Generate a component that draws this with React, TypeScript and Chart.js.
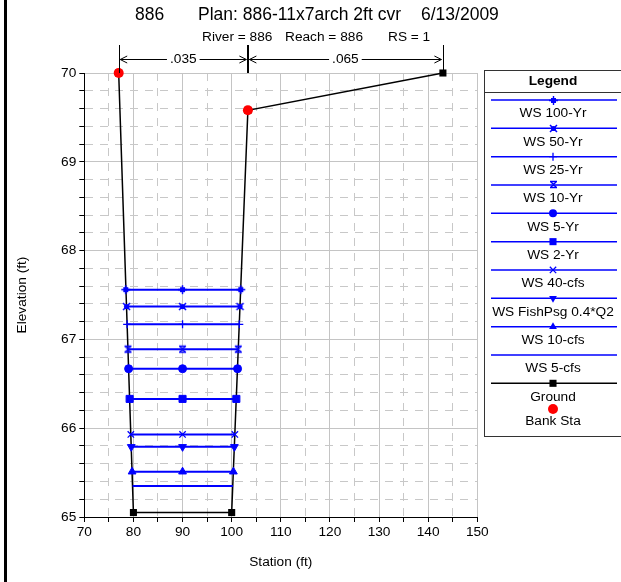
import React, { useEffect, useRef } from 'react';
import { Chart, registerables } from 'chart.js';

Chart.register(...registerables);

const FONT = "'Liberation Sans', Arial, Helvetica, sans-serif";

// ---- data ----
const seriesNames = ['WS 100-Yr', 'WS 50-Yr', 'WS 25-Yr', 'WS 10-Yr', 'WS 5-Yr', 'WS 2-Yr', 'WS 40-cfs', 'WS FishPsg 0.4*Q2', 'WS 10-cfs', 'WS 5-cfs'];
const wsElevations = [67.56, 67.37, 67.17, 66.89, 66.67, 66.33, 65.93, 65.79, 65.51, 65.35];
const wsLeftStations = [78.45, 78.6, 78.72, 78.89, 79.02, 79.23, 79.47, 79.56, 79.73, 79.83];
const wsMidStation = 90;
const wsRightStations = [101.85, 101.7, 101.55, 101.35, 101.2, 100.95, 100.65, 100.55, 100.35, 100.25];
const groundStations = [77, 80, 100, 103.3, 143];
const groundElevations = [70, 65.05, 65.05, 69.58, 70];
const bankStations = [77, 103.3];
const bankElevations = [70, 69.58];
const nBreakStations = [77, 103.3, 143];
const nValues = ['.035', '.065'];
const xMin = 70, xMax = 150, xStep = 5, xLabelStep = 10;
const yMin = 65, yMax = 70, yStep = 0.2;
const titleParts = ['886', 'Plan: 886-11x7arch 2ft cvr', '6/13/2009'];
const subtitleParts = ['River = 886', 'Reach = 886', 'RS = 1'];

const BLUE = '#0000ff';

function makeCanvas(w: number, h: number, draw: (c: CanvasRenderingContext2D) => void) {
  const cv = document.createElement('canvas');
  cv.width = w; cv.height = h;
  const c = cv.getContext('2d')!;
  draw(c);
  return cv;
}

function buildMarkers() {
  const star100 = makeCanvas(11, 11, (c) => {
    c.fillStyle = BLUE; c.strokeStyle = BLUE; c.lineWidth = 1.4;
    c.fillRect(3, 3, 5, 5);
    c.beginPath();
    c.moveTo(5.5, 1); c.lineTo(5.5, 10);
    c.moveTo(1, 5.5); c.lineTo(10, 5.5);
    c.stroke();
  });
  const star50 = makeCanvas(11, 11, (c) => {
    c.fillStyle = BLUE; c.strokeStyle = BLUE; c.lineWidth = 1.5;
    c.beginPath(); c.arc(5.5, 5.5, 2.6, 0, Math.PI * 2); c.fill();
    c.beginPath();
    c.moveTo(2, 2); c.lineTo(9, 9);
    c.moveTo(9, 2); c.lineTo(2, 9);
    c.stroke();
  });
  const hourglass = makeCanvas(11, 11, (c) => {
    c.strokeStyle = BLUE; c.lineWidth = 1.3;
    c.beginPath();
    c.moveTo(2, 2.5); c.lineTo(9, 2.5);
    c.moveTo(2, 8.5); c.lineTo(9, 8.5);
    c.moveTo(2.5, 2.5); c.lineTo(8.5, 8.5);
    c.moveTo(8.5, 2.5); c.lineTo(2.5, 8.5);
    c.stroke();
  });
  return { star100, star50, hourglass };
}

type MarkerSpec = { style: any; r: number; rot?: number; bw?: number };

function drawMarker(ctx: CanvasRenderingContext2D, m: MarkerSpec, color: string, x: number, y: number) {
  if (m.r <= 0) return;
  if (m.style && typeof m.style === 'object') {
    ctx.drawImage(m.style, Math.round(x - m.style.width / 2), Math.round(y - m.style.height / 2));
    return;
  }
  const r = m.r;
  ctx.save();
  ctx.fillStyle = color; ctx.strokeStyle = color; ctx.lineWidth = m.bw || 1;
  ctx.beginPath();
  switch (m.style) {
    case 'circle':
      ctx.arc(x, y, r, 0, Math.PI * 2); ctx.fill(); break;
    case 'rect': {
      const s = r * Math.SQRT1_2;
      ctx.rect(x - s, y - s, 2 * s, 2 * s); ctx.fill(); break;
    }
    case 'triangle': {
      let rad = ((m.rot || 0) * Math.PI) / 180;
      ctx.moveTo(x + Math.sin(rad) * r, y - Math.cos(rad) * r);
      rad += (2 * Math.PI) / 3;
      ctx.lineTo(x + Math.sin(rad) * r, y - Math.cos(rad) * r);
      rad += (2 * Math.PI) / 3;
      ctx.lineTo(x + Math.sin(rad) * r, y - Math.cos(rad) * r);
      ctx.closePath(); ctx.fill(); break;
    }
    case 'cross':
      ctx.moveTo(x, y - r); ctx.lineTo(x, y + r);
      ctx.moveTo(x - r, y); ctx.lineTo(x + r, y);
      ctx.stroke(); break;
    case 'crossRot': {
      const d = r * Math.SQRT1_2;
      ctx.moveTo(x - d, y - d); ctx.lineTo(x + d, y + d);
      ctx.moveTo(x + d, y - d); ctx.lineTo(x - d, y + d);
      ctx.stroke(); break;
    }
  }
  ctx.restore();
}

export default function App() {
  const ref = useRef<HTMLCanvasElement>(null);

  useEffect(() => {
    document.body.style.margin = '0';
    const mk = buildMarkers();
    const wsMarkers: MarkerSpec[] = [
      { style: mk.star100, r: 4 },
      { style: mk.star50, r: 4 },
      { style: 'cross', r: 4, bw: 1.3 },
      { style: mk.hourglass, r: 4 },
      { style: 'circle', r: 4 },
      { style: 'rect', r: 5 },
      { style: 'crossRot', r: 4.5, bw: 1.3 },
      { style: 'triangle', r: 4.5, rot: 180 },
      { style: 'triangle', r: 4.5, rot: 0 },
      { style: 'circle', r: 0 },
    ];
    const groundMarker: MarkerSpec = { style: 'rect', r: 5 };
    const bankMarker: MarkerSpec = { style: 'circle', r: 5 };

    const wsDatasets = seriesNames.map((name, i) => ({
      label: name,
      data: [
        { x: wsLeftStations[i], y: wsElevations[i] },
        { x: wsMidStation, y: wsElevations[i] },
        { x: wsRightStations[i], y: wsElevations[i] },
      ],
      showLine: true,
      borderColor: BLUE,
      backgroundColor: BLUE,
      borderWidth: 2,
      pointStyle: wsMarkers[i].style,
      pointRadius: wsMarkers[i].r,
      pointRotation: wsMarkers[i].rot || 0,
      pointBackgroundColor: BLUE,
      pointBorderColor: BLUE,
      pointBorderWidth: wsMarkers[i].bw || 1,
      clip: false as any,
      order: 2,
    }));

    const datasets: any[] = [
      {
        label: 'Bank Sta',
        data: bankStations.map((x, i) => ({ x, y: bankElevations[i] })),
        showLine: false,
        pointStyle: 'circle',
        pointRadius: bankMarker.r,
        pointBackgroundColor: '#ff0000',
        pointBorderColor: '#ff0000',
        pointBorderWidth: 0,
        clip: false,
        order: 0,
      },
      ...wsDatasets,
      {
        label: 'Ground',
        data: groundStations.map((x, i) => ({ x, y: groundElevations[i] })),
        showLine: true,
        borderColor: '#000000',
        backgroundColor: '#000000',
        borderWidth: 1.5,
        pointStyle: 'rect',
        pointRadius: groundMarker.r,
        pointBackgroundColor: '#000000',
        pointBorderColor: '#000000',
        pointBorderWidth: 0,
        clip: false,
        order: 3,
      },
    ];

    const decorPlugin = {
      id: 'decor',
      afterDraw(chart: any) {
        const ctx: CanvasRenderingContext2D = chart.ctx;
        const xs = chart.scales.x;
        const area = chart.chartArea;
        ctx.save();
        // left black frame bar
        ctx.fillStyle = '#000';
        ctx.fillRect(4, 0, 3, 582);

        // titles
        ctx.fillStyle = '#000';
        ctx.textBaseline = 'middle';
        ctx.textAlign = 'left';
        ctx.font = `17.5px ${FONT}`;
        const tx = [135, 198, 421];
        titleParts.forEach((t, i) => ctx.fillText(t, tx[i], 15));
        ctx.font = `13.7px ${FONT}`;
        const sx = [202, 285, 388];
        subtitleParts.forEach((t, i) => ctx.fillText(t, sx[i], 37));

        // n-value break lines and arrows
        const px = nBreakStations.map((v) => xs.getPixelForValue(v));
        ctx.strokeStyle = '#000';
        px.forEach((p, i) => {
          ctx.lineWidth = i === 1 ? 2 : 1;
          ctx.beginPath();
          ctx.moveTo(Math.round(p) + (i === 1 ? 0 : 0.5), 45);
          ctx.lineTo(Math.round(p) + (i === 1 ? 0 : 0.5), area.top);
          ctx.stroke();
        });
        const ay = 59.5;
        ctx.lineWidth = 1;
        ctx.font = `13.7px ${FONT}`;
        ctx.textAlign = 'center';
        for (let j = 0; j < nValues.length; j++) {
          const a = px[j] + 1.5, b = px[j + 1] - 1.5;
          const mid = (a + b) / 2;
          const tw = ctx.measureText(nValues[j]).width;
          ctx.beginPath();
          ctx.moveTo(a, ay); ctx.lineTo(mid - tw / 2 - 3, ay);
          ctx.moveTo(mid + tw / 2 + 3, ay); ctx.lineTo(b, ay);
          ctx.moveTo(a + 7, ay - 3.5); ctx.lineTo(a, ay); ctx.lineTo(a + 7, ay + 3.5);
          ctx.moveTo(b - 7, ay - 3.5); ctx.lineTo(b, ay); ctx.lineTo(b - 7, ay + 3.5);
          ctx.stroke();
          ctx.fillText(nValues[j], mid, ay);
        }

        // legend box
        const lx0 = 484.5, lx1 = 622, ly0 = 70.5, ly1 = 436.5;
        const cx = 553;
        ctx.strokeStyle = '#333';
        ctx.lineWidth = 1;
        ctx.strokeRect(lx0, ly0, lx1 - lx0, ly1 - ly0);
        ctx.beginPath();
        ctx.moveTo(lx0, 92.5); ctx.lineTo(lx1, 92.5);
        ctx.stroke();
        ctx.fillStyle = '#000';
        ctx.font = `bold 13.7px ${FONT}`;
        ctx.fillText('Legend', cx, 81.5);
        ctx.font = `13.7px ${FONT}`;
        const entries = [
          ...seriesNames.map((n, i) => ({ name: n, color: BLUE, width: 1.5, marker: wsMarkers[i] })),
          { name: 'Ground', color: '#000', width: 1.5, marker: groundMarker },
        ];
        entries.forEach((e, i) => {
          const ly = 100 + i * 28.33;
          ctx.strokeStyle = e.color;
          ctx.lineWidth = e.width;
          ctx.beginPath();
          ctx.moveTo(491, ly); ctx.lineTo(617, ly);
          ctx.stroke();
          drawMarker(ctx, e.marker, e.color, cx, ly);
          ctx.fillStyle = '#000';
          ctx.fillText(e.name, cx, ly + 13.7);
        });
        drawMarker(ctx, bankMarker, '#ff0000', cx, 409);
        ctx.fillStyle = '#000';
        ctx.fillText('Bank Sta', cx, 421.5);
        ctx.restore();
      },
    };

    const isMajor = (v: number, step: number) => Math.abs(v / step - Math.round(v / step)) < 1e-6;

    const chart = new Chart(ref.current!, {
      type: 'scatter',
      data: { datasets },
      options: {
        responsive: false,
        animation: false,
        devicePixelRatio: 1,
        layout: { padding: { top: 73, right: 143.7, bottom: 0, left: 0 } },
        plugins: {
          legend: { display: false },
          tooltip: { enabled: false },
          title: { display: false },
        },
        elements: { line: { tension: 0 } },
        scales: {
          x: {
            type: 'linear',
            position: 'bottom',
            min: xMin,
            max: xMax,
            afterFit: (s: any) => { s.height = 65; },
            ticks: {
              stepSize: xStep,
              autoSkip: false,
              maxRotation: 0,
              color: '#000',
              padding: 2,
              font: { family: FONT, size: 13.7 },
              callback: (v: any) => (isMajor(Number(v), xLabelStep) ? String(Math.round(Number(v))) : ''),
            },
            grid: {
              color: (c: any) => (c.tick && isMajor(c.tick.value, xLabelStep) ? '#c4c4c4' : '#c8c8c8'),
              lineWidth: 1,
              tickLength: 5,
              tickColor: '#000',
            },
            border: {
              color: '#000',
              width: 1,
              dash: (c: any) => (c.type === 'tick' && c.tick && !isMajor(c.tick.value, xLabelStep) ? [8, 7] : []),
            },
            title: {
              display: true,
              text: 'Station (ft)',
              color: '#000',
              font: { family: FONT, size: 13.7 },
              padding: { top: 0, bottom: 12 },
            },
          } as any,
          y: {
            type: 'linear',
            position: 'left',
            min: yMin,
            max: yMax,
            afterFit: (s: any) => { s.width = 84.3; },
            ticks: {
              stepSize: yStep,
              maxTicksLimit: 100,
              autoSkip: false,
              color: '#000',
              padding: 3,
              font: { family: FONT, size: 13.7 },
              callback: (v: any) => (isMajor(Number(v), 1) ? String(Math.round(Number(v))) : ''),
            },
            grid: {
              color: (c: any) => (c.tick && isMajor(c.tick.value, 1) ? '#c4c4c4' : '#c8c8c8'),
              lineWidth: 1,
              tickLength: 5,
              tickColor: '#000',
            },
            border: {
              color: '#000',
              width: 1,
              dash: (c: any) => (c.type === 'tick' && c.tick && !isMajor(c.tick.value, 1) ? [8, 7] : []),
            },
            title: {
              display: true,
              text: 'Elevation (ft)',
              color: '#000',
              font: { family: FONT, size: 13.7 },
              padding: { top: 14, bottom: 0 },
            },
          } as any,
        },
      },
      plugins: [decorPlugin],
    });
    return () => chart.destroy();
  }, []);

  return (
    <div style={{ width: 621, height: 582 }}>
      <canvas ref={ref} width={621} height={582} style={{ display: 'block' }} />
    </div>
  );
}
